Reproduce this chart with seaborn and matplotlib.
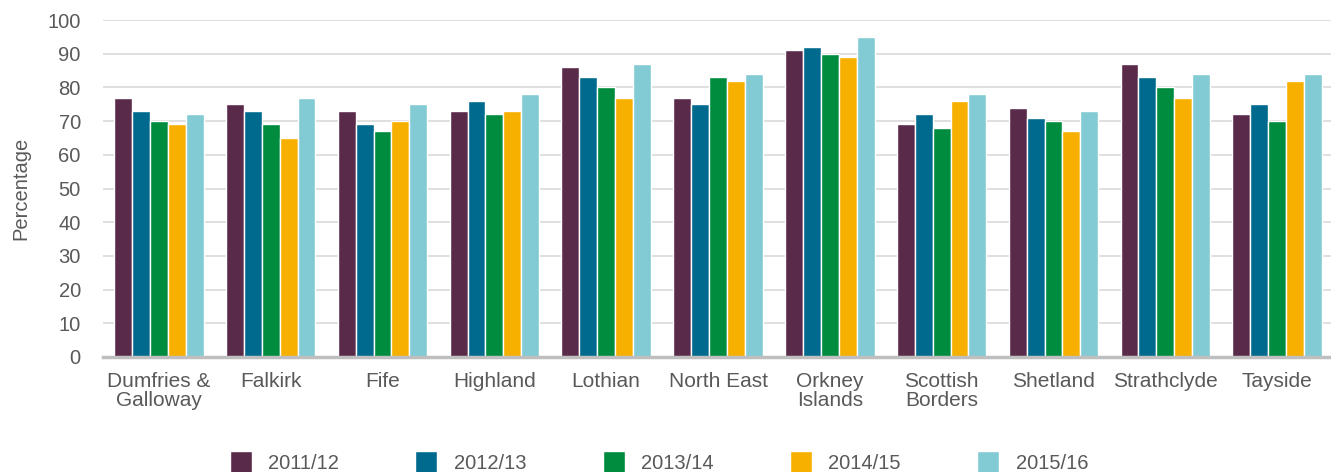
import matplotlib
matplotlib.use('Agg')
import matplotlib.pyplot as plt
import seaborn as sns
import pandas as pd

regions = ['Dumfries &\nGalloway', 'Falkirk', 'Fife', 'Highland', 'Lothian', 'North East',
           'Orkney\nIslands', 'Scottish\nBorders', 'Shetland', 'Strathclyde', 'Tayside']
years = ['2011/12', '2012/13', '2013/14', '2014/15', '2015/16']

y2011 = [77, 75, 73, 73, 86, 77, 91, 69, 74, 87, 72]
y2012 = [73, 73, 69, 76, 83, 75, 92, 72, 71, 83, 75]
y2013 = [70, 69, 67, 72, 80, 83, 90, 68, 70, 80, 70]
y2014 = [69, 65, 70, 73, 77, 82, 89, 76, 67, 77, 82]
y2015 = [72, 77, 75, 78, 87, 84, 95, 78, 73, 84, 84]

colors = ['#5A2A4B', '#006A8E', '#008C3F', '#F8B000', '#82CBD4']

rows = []
for year, vals in zip(years, [y2011, y2012, y2013, y2014, y2015]):
    for region, v in zip(regions, vals):
        rows.append({'region': region, 'year': year, 'value': v})
df = pd.DataFrame(rows)

sns.set_style('white')
plt.rcParams['font.family'] = ['Liberation Sans', 'DejaVu Sans']
text_color = '#595959'

fig = plt.figure(figsize=(13.31, 4.72), dpi=100)
ax = fig.add_axes([103 / 1331, 1 - 357 / 472, 1230 / 1331, 337 / 472])

sns.barplot(data=df, x='region', y='value', hue='year', palette=colors,
            width=0.8, edgecolor='white', linewidth=1, saturation=1, ax=ax)

ax.set_ylim(0, 100)
ax.set_xlim(-0.5, len(regions) - 0.5)
ax.set_yticks(range(0, 101, 10))
ax.yaxis.grid(True, color='#d9d9d9', linewidth=1.2)
ax.set_axisbelow(True)
for side in ['top', 'right', 'left']:
    ax.spines[side].set_visible(False)
ax.spines['bottom'].set_color('#bfbfbf')
ax.spines['bottom'].set_linewidth(2.5)
ax.tick_params(axis='both', length=0, colors=text_color)
ax.tick_params(axis='x', pad=11, labelsize=15)
ax.tick_params(axis='y', pad=16, labelsize=14.5)
for lbl in ax.get_xticklabels():
    lbl.set_linespacing(0.95)
ax.set_xlabel('')
ax.set_ylabel('Percentage', fontsize=14.5, color=text_color, labelpad=12)

ax.legend_.remove()
handles, labels = ax.get_legend_handles_labels()
fig.legend(handles, labels, loc='center', bbox_to_anchor=(0.495, 0.02), ncol=5,
           frameon=False, fontsize=14.5, labelcolor=text_color, columnspacing=3.8,
           handlelength=1.1, handleheight=1.45, handletextpad=0.8)

fig.savefig('out.png', dpi=100)
